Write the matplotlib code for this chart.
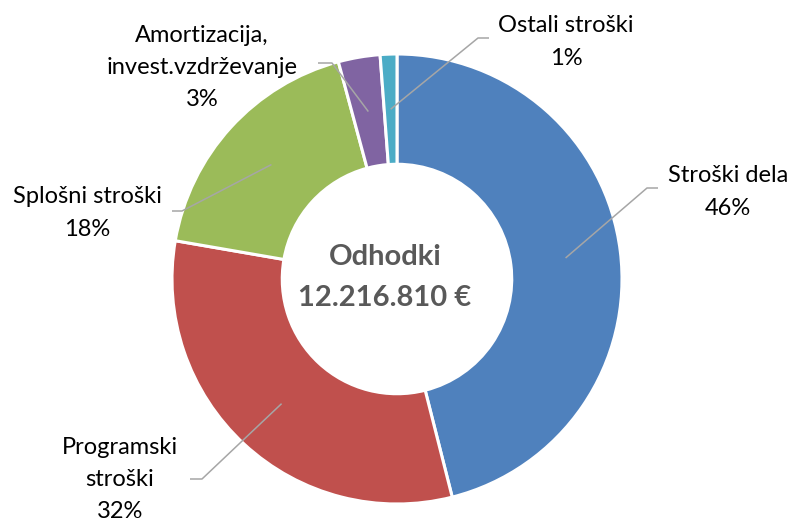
import matplotlib
matplotlib.use('Agg')
import matplotlib.pyplot as plt
import numpy as np

# ---- data ----
categories = ['Stroški dela', 'Programski\nstroški', 'Splošni stroški',
              'Amortizacija,\ninvest.vzdrževanje', 'Ostali stroški']
shares = [46.1, 31.7, 18.1, 3.0, 1.2]
pct_labels = ['46%', '32%', '18%', '3%', '1%']
colors = ['#4F81BD', '#C0504D', '#9BBB59', '#8064A2', '#4BACC6']
center_title = 'Odhodki'
center_total = '12.216.810 €'

# ---- layout (pixel coordinates, y measured from top) ----
W, H = 793, 523
cx, cy, R = 397, 279, 225
ring_frac = 0.49
# (elbow x, elbow y, end x, text center x, first baseline y, line step)
label_layout = [
    (647, 188, 658, 728, 182, 33),
    (202, 479, 190, 120, 454, 32),
    (182, 211, 172, 87, 203, 33),
    (332, 63, 318, 202, 42, 32),
    (478, 38, 489, 566, 32, 33),
]

FONT = ['Lato', 'DejaVu Sans']

fig = plt.figure(figsize=(W / 100, H / 100), dpi=100)
ax = fig.add_axes([0, 0, 1, 1])


def Y(y):
    return H - y


wedges, _ = ax.pie(shares, colors=colors, startangle=90, counterclock=False,
                   center=(cx, Y(cy)), radius=R,
                   wedgeprops=dict(width=R * ring_frac, edgecolor='white',
                                   linewidth=2.2))
ax.set_xlim(0, W)
ax.set_ylim(0, H)
ax.set_aspect('equal')
ax.axis('off')

r_mid = R - R * ring_frac / 2
for w, cat, pct, lay in zip(wedges, categories, pct_labels, label_layout):
    ex, ey, endx, tx, by, step = lay
    mid = np.deg2rad((w.theta1 + w.theta2) / 2)
    sx = cx + r_mid * np.cos(mid)
    sy = Y(cy) + r_mid * np.sin(mid)
    ax.plot([sx, ex, endx], [sy, Y(ey), Y(ey)], color='#A6A6A6', lw=1.1,
            solid_capstyle='butt', zorder=5)
    lines = cat.split('\n') + [pct]
    for i, ln in enumerate(lines):
        ax.text(tx, Y(by + i * step), ln, ha='center', va='baseline',
                fontsize=17, family=FONT, color='black')

ax.text(385, Y(265), center_title, ha='center', va='baseline', fontsize=21,
        fontweight='bold', family=FONT, color='#595959')
ax.text(385, Y(306), center_total, ha='center', va='baseline', fontsize=21,
        fontweight='bold', family=FONT, color='#595959')

fig.savefig('out.png', dpi=100, facecolor='white')
